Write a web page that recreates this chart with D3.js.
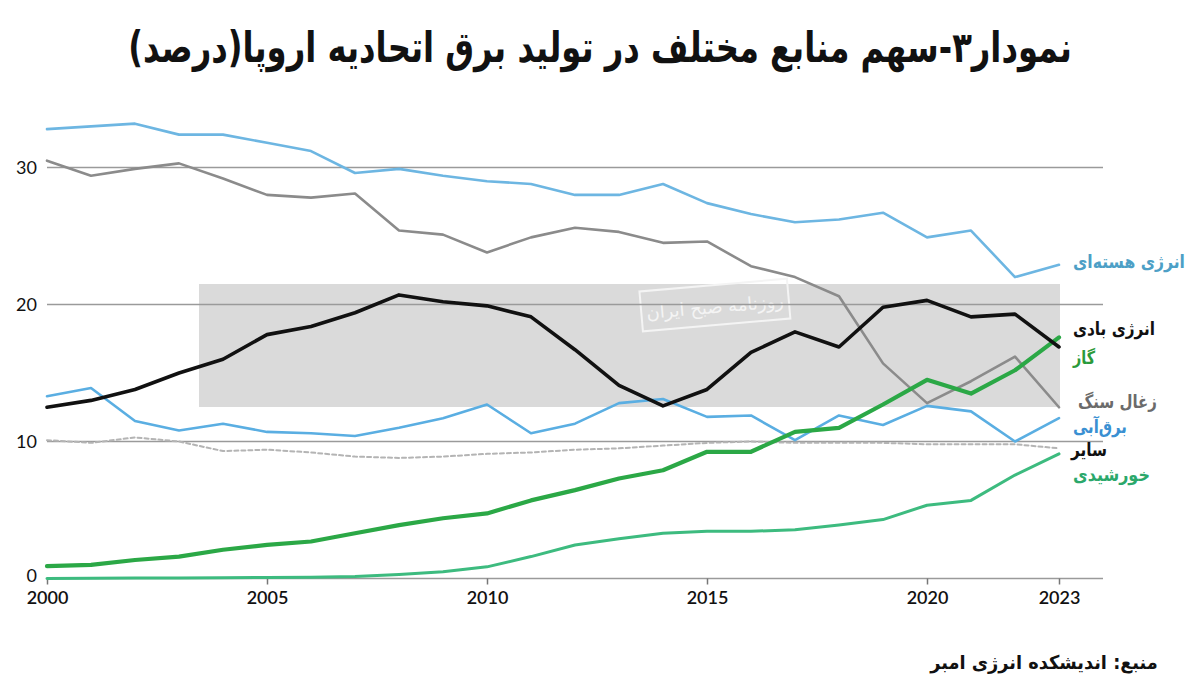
<!DOCTYPE html>
<html lang="fa">
<head>
<meta charset="utf-8">
<script src="https://cdn.jsdelivr.net/npm/d3@7"></script>
<style>
  html, body { margin: 0; padding: 0; background: #ffffff; }
  svg { display: block; }
</style>
</head>
<body>
<svg id="chart" width="1200" height="695"></svg>
<script>
// ---------- DATA ----------
const years = d3.range(2000, 2024);
const xTickYears = [2000, 2005, 2010, 2015, 2020, 2023];
const yTicks = [0, 10, 20, 30];

const nuclear = [32.8, 33.0, 33.2, 32.4, 32.4, 31.8, 31.2, 29.6, 29.9, 29.4, 29.0, 28.8, 28.0, 28.0, 28.8, 27.4, 26.6, 26.0, 26.2, 26.7, 24.9, 25.4, 22.0, 22.9];
const coal    = [30.5, 29.4, 29.9, 30.3, 29.2, 28.0, 27.8, 28.1, 25.4, 25.1, 23.8, 24.9, 25.6, 25.3, 24.5, 24.6, 22.8, 22.0, 20.6, 15.7, 12.8, 14.4, 16.2, 12.5];
const wind    = [12.5, 13.0, 13.8, 15.0, 16.0, 17.8, 18.4, 19.4, 20.7, 20.2, 19.9, 19.1, 16.7, 14.1, 12.6, 13.8, 16.5, 18.0, 16.9, 19.8, 20.3, 19.1, 19.3, 16.9];
const gas     = [0.9, 1.0, 1.35, 1.6, 2.1, 2.45, 2.7, 3.3, 3.9, 4.4, 4.75, 5.7, 6.45, 7.3, 7.9, 9.25, 9.25, 10.7, 11.0, 12.7, 14.5, 13.5, 15.2, 17.6];
const hydro   = [13.3, 13.9, 11.5, 10.8, 11.3, 10.7, 10.6, 10.4, 11.0, 11.7, 12.7, 10.6, 11.3, 12.8, 13.1, 11.8, 11.9, 10.1, 11.9, 11.2, 12.6, 12.2, 10.0, 11.7];
const other   = [10.1, 9.9, 10.3, 10.0, 9.3, 9.4, 9.2, 8.9, 8.8, 8.9, 9.1, 9.2, 9.4, 9.5, 9.7, 9.9, 10.0, 9.9, 9.9, 9.9, 9.8, 9.8, 9.8, 9.5];
const solar   = [0.0, 0.02, 0.03, 0.04, 0.06, 0.08, 0.1, 0.15, 0.3, 0.5, 0.85, 1.6, 2.45, 2.9, 3.3, 3.45, 3.45, 3.55, 3.9, 4.3, 5.35, 5.7, 7.55, 9.1];

const seriesNames = ["انرژی هسته‌ای", "زغال سنگ", "انرژی بادی", "گاز", "برق‌آبی", "سایر", "خورشیدی"];
const titleText = "نمودار۳-سهم منابع مختلف در تولید برق اتحادیه اروپا(درصد)";
const sourceText = "منبع: اندیشکده انرژی امبر";

// ---------- LAYOUT ----------
const svg = d3.select("#chart");
const x = d3.scaleLinear().domain([2000, 2023]).range([47, 1059]);
const y = d3.scaleLinear().domain([0, 30]).range([578.5, 167.5]);
const gridRight = 1103;

// watermark-like grey band
svg.append("rect").attr("x", 199).attr("y", 284).attr("width", 861).attr("height", 123).attr("fill", "#dadada");
const wm = svg.append("g").attr("transform", "translate(715,306) rotate(-5)");
wm.append("rect").attr("x", -74).attr("y", -21).attr("width", 148).attr("height", 40)
  .attr("fill", "none").attr("stroke", "#f4f4f4").attr("stroke-width", 2);
wm.append("text").attr("x", 0).attr("y", 7).attr("text-anchor", "middle")
  .attr("font-family", "DejaVu Sans").attr("font-size", 18).attr("fill", "#f4f4f4")
  .text("روزنامه صبح ایران");

// grid lines
svg.append("g").selectAll("line").data(yTicks.filter(d => d > 0)).join("line")
  .attr("x1", x(2000)).attr("x2", gridRight)
  .attr("y1", d => y(d)).attr("y2", d => y(d))
  .attr("stroke", "#9a9a9a").attr("stroke-width", 1.6);

// y axis labels
svg.append("g").selectAll("text").data(yTicks).join("text")
  .attr("x", 37).attr("y", d => y(d) - (d === 0 ? 3 : 0)).attr("dy", "0.36em")
  .attr("text-anchor", "end")
  .attr("font-family", "Lato, 'DejaVu Sans', sans-serif").attr("font-size", 18).attr("fill", "#111")
  .text(d => d);

// x axis
const xAxis = d3.axisBottom(x).tickValues(xTickYears).tickFormat(d3.format("d")).tickSize(6).tickPadding(7);
const gx = svg.append("g").attr("transform", `translate(0,${y(0)})`).call(xAxis);
gx.select(".domain").remove();
gx.insert("line", ":first-child").attr("x1", x(2000)).attr("x2", gridRight).attr("y1", 0).attr("y2", 0)
  .attr("stroke", "#9a9a9a").attr("stroke-width", 1.6);
gx.selectAll(".tick line").attr("stroke", "#777").attr("stroke-width", 1.5);
gx.selectAll(".tick text").attr("font-family", "Lato, 'DejaVu Sans', sans-serif")
  .attr("font-size", 18).attr("font-weight", 600).attr("fill", "#111");

// lines
const line = d3.line().x((d, i) => x(years[i])).y(d => y(d));
const seriesDefs = [
  { data: other,   color: "#b4b4b4", width: 2,   dash: "4,3" },
  { data: solar,   color: "#3dbb7f", width: 3 },
  { data: hydro,   color: "#5aaee2", width: 2.6 },
  { data: nuclear, color: "#6db6e2", width: 2.6 },
  { data: coal,    color: "#8b8b8b", width: 2.6 },
  { data: gas,     color: "#2ba846", width: 4.2 },
  { data: wind,    color: "#111111", width: 3.6 }
];
svg.append("g").selectAll("path").data(seriesDefs).join("path")
  .attr("d", d => line(d.data))
  .attr("fill", "none")
  .attr("stroke", d => d.color)
  .attr("stroke-width", d => d.width)
  .attr("stroke-dasharray", d => d.dash || null)
  .attr("stroke-linejoin", "round")
  .attr("stroke-linecap", "round");

// right-side labels
const labelDefs = [
  { name: seriesNames[0], y: 262, color: "#4d9fc6", x: 1073, w: 112 },
  { name: seriesNames[2], y: 329, color: "#111111", x: 1073, w: 82 },
  { name: seriesNames[3], y: 358, color: "#2b9a3a", x: 1073, w: 22 },
  { name: seriesNames[1], y: 402, color: "#6b6b6b", x: 1078, w: 79 },
  { name: seriesNames[4], y: 427, color: "#3a90d2", x: 1073, w: 54 },
  { name: seriesNames[5], y: 450, color: "#111111", x: 1071, w: 36 },
  { name: seriesNames[6], y: 475, color: "#2ba86b", x: 1073, w: 77 }
];
svg.append("g").selectAll("text").data(labelDefs).join("text")
  .attr("dy", "0.35em")
  .attr("text-anchor", "start")
  .attr("font-family", "'DejaVu Sans', sans-serif").attr("font-size", 18).attr("font-weight", 600)
  .attr("fill", d => d.color)
  .text(d => d.name)
  .each(function (d) {
    const len = this.getComputedTextLength();
    const s = Math.max(0.8, Math.min(1.25, d.w / len));
    d3.select(this).attr("transform", `translate(${d.x},${d.y}) scale(${s},1)`);
  });

// title
const title = svg.append("text")
  .attr("font-family", "'DejaVu Sans', sans-serif").attr("font-size", 39).attr("font-weight", 700)
  .attr("fill", "#111").attr("text-anchor", "middle")
  .text(titleText);
const tw = title.node().getComputedTextLength();
const sx = 944 / tw;
title.attr("transform", `translate(600,62) scale(${sx},1.08)`);

// source
const src = svg.append("text")
  .attr("font-family", "'DejaVu Sans', sans-serif").attr("font-size", 19).attr("font-weight", 700)
  .attr("fill", "#111").attr("text-anchor", "middle")
  .text(sourceText);
const sw = src.node().getComputedTextLength();
src.attr("transform", `translate(1044,669) scale(${228 / sw},1)`);
</script>
</body>
</html>
